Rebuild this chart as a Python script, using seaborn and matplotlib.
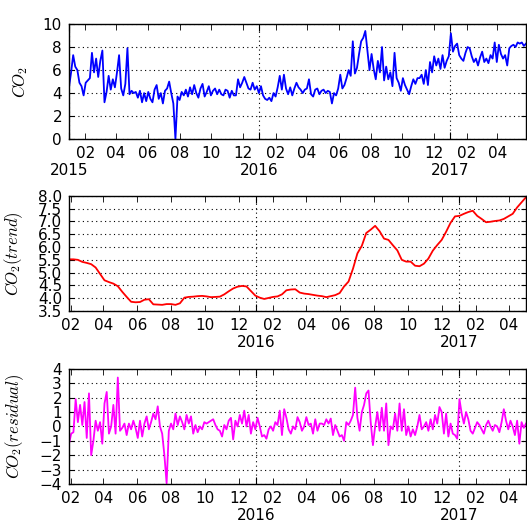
import matplotlib
matplotlib.use("Agg")
import matplotlib.pyplot as plt
import matplotlib.dates as mdates
import pandas as pd
import seaborn as sns

# daily CO2 readings, sampled every 4 days from 2015-01-01
co2 = [
    4.5, 5.8, 7.3, 6.3, 6.0, 4.9, 4.6, 3.8,
    4.9, 5.1, 5.3, 7.5, 5.8, 7.0, 5.4, 6.8,
    7.7, 3.2, 4.1, 5.5, 4.3, 5.2, 4.5, 5.8,
    7.3, 4.4, 3.8, 4.8, 7.9, 3.9, 4.2, 4.0,
    4.1, 3.6, 4.2, 3.2, 4.0, 3.3, 4.1, 3.5,
    3.2, 4.3, 4.7, 3.5, 4.0, 3.1, 4.2, 4.4,
    5.0, 4.0, 3.1, 0.0, 3.7, 3.4, 4.1, 3.8,
    4.3, 3.7, 4.5, 3.9, 4.7, 4.0, 3.6, 4.4,
    4.8, 3.7, 4.1, 4.6, 3.8, 4.2, 4.4, 3.9,
    4.3, 3.9, 3.8, 4.3, 4.2, 3.6, 4.2, 3.8,
    3.8, 5.2, 4.5, 4.9, 5.4, 4.9, 4.4, 4.3,
    4.9, 4.3, 4.6, 4.0, 4.6, 3.8, 3.5, 3.4,
    3.6, 3.3, 4.0, 3.7, 4.5, 5.5, 4.3, 5.6,
    4.4, 3.9, 4.5, 3.8, 4.4, 4.9, 4.5, 4.3,
    4.0, 4.3, 4.4, 5.2, 3.9, 3.7, 4.3, 4.4,
    3.9, 4.2, 4.3, 4.0, 4.2, 4.1, 3.1, 4.0,
    3.8, 4.4, 5.6, 4.4, 4.7, 5.3, 6.0, 5.5,
    8.5, 5.7, 6.2, 7.4, 8.5, 8.8, 9.4, 7.7,
    6.0, 7.4, 6.1, 5.2, 6.8, 5.8, 8.0, 5.1,
    6.3, 5.2, 5.8, 4.6, 7.5, 5.3, 4.9, 4.2,
    5.3, 4.7, 4.3, 3.9, 4.6, 5.2, 4.8, 5.3,
    5.3, 5.6, 4.8, 6.0, 4.7, 6.7, 5.8, 7.2,
    6.4, 7.0, 6.1, 7.3, 6.2, 6.8, 7.2, 9.2,
    7.6, 8.1, 8.3, 7.3, 7.0, 6.8, 7.5, 8.0,
    7.9, 7.2, 6.7, 7.0, 6.4, 7.1, 7.6, 6.7,
    7.0, 6.6, 7.3, 7.0, 8.4, 6.7, 8.2, 7.4,
    7.0, 7.3, 6.4, 7.9, 8.1, 8.2, 8.0, 8.4,
    8.3, 8.4, 8.1, 8.3,
]

# trend component, every 8 days from 2015-01-29
trend = [
    5.52, 5.52, 5.50, 5.42, 5.38, 5.33, 5.20, 4.95,
    4.70, 4.63, 4.57, 4.47, 4.25, 4.05, 3.86, 3.84,
    3.85, 3.94, 3.96, 3.76, 3.75, 3.74, 3.77, 3.77,
    3.74, 3.80, 4.02, 4.05, 4.06, 4.08, 4.09, 4.07,
    4.04, 4.05, 4.06, 4.15, 4.27, 4.38, 4.45, 4.48,
    4.46, 4.28, 4.10, 4.02, 3.97, 4.01, 4.05, 4.07,
    4.15, 4.31, 4.34, 4.35, 4.22, 4.18, 4.16, 4.13,
    4.10, 4.08, 4.04, 4.08, 4.12, 4.20, 4.46, 4.65,
    5.15, 5.75, 6.05, 6.55, 6.68, 6.83, 6.62, 6.33,
    6.28, 6.07, 5.87, 5.50, 5.43, 5.43, 5.27, 5.25,
    5.35, 5.55, 5.86, 6.08, 6.28, 6.60, 6.95, 7.20,
    7.22, 7.30, 7.37, 7.42, 7.22, 7.10, 6.97, 6.99,
    7.02, 7.04, 7.10, 7.20, 7.30, 7.55, 7.75, 7.95,
]

# residual component, every 4 days from 2015-01-29
resid = [
    -1.2, -0.5, -0.4, 1.9, 0.3, 1.5, 0.1, 1.7,
    -0.8, 2.3, -2.0, -1.0, 0.4, -0.3, 0.3, -1.2,
    1.6, 2.4, -0.5, 0.0, 1.5, -0.5, 3.4, -0.3,
    -0.1, 0.2, -0.6, 0.2, -0.2, 0.4, -0.1, -0.8,
    0.4, -0.7, 0.2, 0.7, -0.2, 0.3, 0.9, 0.5,
    1.4, 0.0, -0.5, -2.0, -3.95, -0.3, 0.2, -0.2,
    0.9, 0.1, 0.7, 0.3, -0.2, 0.8, 0.2, 0.7,
    -0.5, 0.1, -0.4, 0.0, -0.2, 0.3, 0.2, 0.3,
    0.4, 0.5, 0.1, -0.2, -0.3, -0.7, 0.1, -0.2,
    0.4, 0.6, -0.9, 0.4, 0.0, 0.8, 0.2, 1.1,
    0.0, 0.8, -0.5, 0.3, -0.2, 0.6, 0.0, -0.7,
    -0.6, -0.85, -0.2, 0.0, -0.3, 0.3, 0.1, 1.1,
    -0.6, 1.2, 0.6, -0.2, -0.5, 0.0, -0.2, 0.65,
    0.3, -0.3, 0.0, 0.65, 0.1, 0.2, -0.5, 0.5,
    -0.3, 0.2, 0.2, 0.1, 0.5, 0.2, 0.55, -0.6,
    0.1, -0.3, -0.7, -0.6, -1.0, 0.3, 0.1, 0.4,
    0.8, 2.7, 0.6, -0.3, 1.0, 1.5, 2.3, 2.5,
    0.3, -1.3, 0.0, 1.0, -0.3, 1.3, -0.3, 1.6,
    -1.3, 0.0, -0.2, 0.9, -0.3, 1.6, -0.3, 1.2,
    -0.6, 0.0, -0.7, -0.2, -0.6, 0.0, 0.8, -0.2,
    0.0, 0.3, -0.3, 0.5, -0.2, 0.8, 0.2, 1.35,
    1.0, -0.5, 0.9, -0.7, 0.2, -0.5, -0.6, -0.85,
    1.9, 0.9, 0.2, 1.0, 0.5, -0.3, -0.5, -0.1,
    0.3, 0.1, -0.2, -0.5, 0.1, 0.4, 0.0, -0.3,
    0.1, 0.0, -0.4, 0.3, 1.2, 0.4, -0.2, 0.4,
    0.0, -0.6, 0.4, -1.2, 0.3, -0.1, 0.2,
]

co2_dates = pd.date_range("2015-01-01", periods=len(co2), freq="4D")
trend_dates = pd.date_range("2015-01-29", periods=len(trend), freq="8D")
resid_dates = pd.date_range("2015-01-29", periods=len(resid), freq="4D")

plt.rcParams.update({
    "font.family": "DejaVu Sans",
    "font.size": 11,
    "mathtext.fontset": "cm",
    "axes.linewidth": 1.0,
})

fig = plt.figure(figsize=(5.27, 5.23), dpi=100)
w = (526 - 69) / 527
ax1 = fig.add_axes([69 / 527, 0.734, w, 0.220])
ax2 = fig.add_axes([69 / 527, 0.4054, w, 0.220])
ax3 = fig.add_axes([69 / 527, 0.0746, w, 0.220])

sns.lineplot(x=co2_dates, y=co2, ax=ax1, color="#0000ff", lw=1.3, estimator=None)
sns.lineplot(x=trend_dates, y=trend, ax=ax2, color="#ff0000", lw=1.3, estimator=None)
sns.lineplot(x=resid_dates, y=resid, ax=ax3, color="#ff00ff", lw=1.3, estimator=None)

ax1.set_xlim(co2_dates[0], co2_dates[-1])
ax2.set_xlim(trend_dates[0], trend_dates[-1])
ax3.set_xlim(resid_dates[0], resid_dates[-1])

ax1.set_ylim(0, 10)
ax1.set_yticks(range(0, 11, 2))
ax2.set_ylim(3.5, 8.0)
ax2.set_yticks([3.5 + 0.5 * i for i in range(10)])
ax2.yaxis.set_major_formatter(matplotlib.ticker.FormatStrFormatter("%.1f"))
ax3.set_ylim(-4, 4)
ax3.set_yticks(range(-4, 5))

ax1.set_ylabel(r"$CO_2$", fontsize=12)
ax2.set_ylabel(r"$CO_2(trend)$", fontsize=12)
ax3.set_ylabel(r"$CO_2(residual)$", fontsize=12)
ax1.yaxis.set_label_coords(-0.085, 0.5)
ax2.yaxis.set_label_coords(-0.096, 0.5)
ax3.yaxis.set_label_coords(-0.094, 0.5)

for ax in (ax1, ax2, ax3):
    ax.xaxis.set_major_locator(mdates.YearLocator())
    ax.xaxis.set_major_formatter(mdates.DateFormatter("%Y"))
    ax.xaxis.set_minor_locator(mdates.MonthLocator(bymonth=[2, 4, 6, 8, 10, 12]))
    ax.xaxis.set_minor_formatter(mdates.DateFormatter("%m"))
    ax.tick_params(which="both", direction="in", top=True, right=True,
                   labelsize=11, color="k")
    ax.tick_params(axis="y", pad=5)
    ax.tick_params(axis="x", which="minor", length=4, pad=5)
    ax.tick_params(axis="x", which="major", length=5, pad=17)
    ax.grid(True, which="major", color="k", linestyle=(0, (1, 3)), linewidth=0.8)
    ax.set_xlabel("")

fig.savefig("out.png", dpi=100, facecolor="white")
